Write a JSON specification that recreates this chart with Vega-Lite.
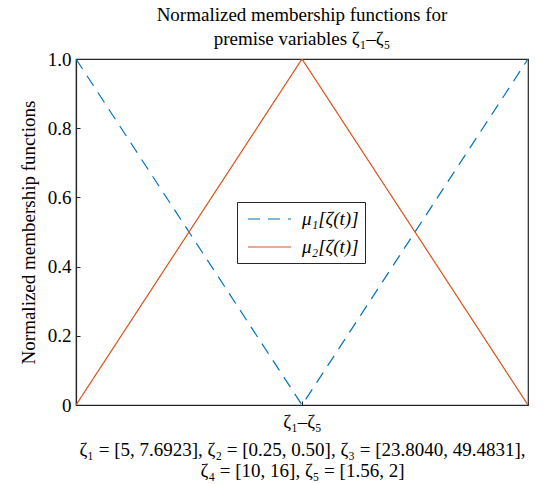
{
  "$schema": "https://vega.github.io/schema/vega-lite/v6.json",
  "autosize": {"type": "none"},
  "padding": {"left": 76, "top": 59, "right": 15, "bottom": 79},
  "width": 452,
  "height": 346,
  "background": "white",
  "title": {
    "text": ["Normalized membership functions for", "premise variables ζ₁–ζ₅"],
    "font": "Times New Roman",
    "fontSize": 19,
    "fontWeight": "normal",
    "color": "#000000",
    "lineHeight": 24,
    "offset": 1,
    "anchor": "middle"
  },
  "data": {
    "values": [
      {"x": 0, "y": 1, "series": "μ₁[ζ(t)]"},
      {"x": 0.5, "y": 0, "series": "μ₁[ζ(t)]"},
      {"x": 1, "y": 1, "series": "μ₁[ζ(t)]"},
      {"x": 0, "y": 0, "series": "μ₂[ζ(t)]"},
      {"x": 0.5, "y": 1, "series": "μ₂[ζ(t)]"},
      {"x": 1, "y": 0, "series": "μ₂[ζ(t)]"}
    ]
  },
  "mark": {"type": "line", "strokeWidth": 1.2, "clip": true},
  "encoding": {
    "x": {
      "field": "x", "type": "quantitative",
      "scale": {"domain": [0, 1], "nice": false},
      "axis": {
        "values": [0.5],
        "labelExpr": "'ζ₁–ζ₅'",
        "grid": false,
        "tickSize": -4,
        "labelPadding": 11,
        "title": ["ζ₁ = [5, 7.6923], ζ₂ = [0.25, 0.50], ζ₃ = [23.8040, 49.4831],", "ζ₄ = [10, 16], ζ₅ = [1.56, 2]"],
        "titlePadding": 9,
        "titleLineHeight": 21
      }
    },
    "y": {
      "field": "y", "type": "quantitative",
      "scale": {"domain": [0, 1], "nice": false},
      "axis": {
        "values": [0, 0.2, 0.4, 0.6, 0.8, 1],
        "labelExpr": "datum.value == 0 ? '0' : format(datum.value, '.1f')",
        "grid": false,
        "tickSize": -4,
        "labelPadding": 9,
        "title": "Normalized membership functions",
        "titlePadding": 9
      }
    },
    "color": {
      "field": "series", "type": "nominal",
      "scale": {"domain": ["μ₁[ζ(t)]", "μ₂[ζ(t)]"], "range": ["#0072BD", "#D95319"]},
      "legend": {
        "title": null,
        "orient": "none",
        "legendX": 161,
        "legendY": 143,
        "strokeColor": "#262626",
        "fillColor": "white",
        "padding": 6,
        "symbolType": "M-0.6,0H3.7",
        "symbolSize": 400,
        "symbolStrokeWidth": 1.2,
        "rowPadding": 7,
        "labelFont": "Times New Roman",
        "labelFontSize": 19,
        "labelFontStyle": "italic",
        "labelColor": "#000000",
        "labelOffset": 37
      }
    },
    "strokeDash": {
      "field": "series", "type": "nominal",
      "scale": {"domain": ["μ₁[ζ(t)]", "μ₂[ζ(t)]"], "range": [[12, 8], [1, 0]]},
      "legend": {
        "title": null,
        "orient": "none",
        "legendX": 161,
        "legendY": 143,
        "strokeColor": "#262626",
        "fillColor": "white",
        "padding": 6,
        "symbolType": "M-0.6,0H3.7",
        "symbolSize": 400,
        "symbolStrokeWidth": 1.2,
        "rowPadding": 7,
        "labelFont": "Times New Roman",
        "labelFontSize": 19,
        "labelFontStyle": "italic",
        "labelColor": "#000000",
        "labelOffset": 37
      }
    }
  },
  "config": {
    "view": {"stroke": "#262626", "strokeWidth": 1.2},
    "axis": {
      "domainColor": "#262626",
      "domainWidth": 1.2,
      "tickColor": "#262626",
      "labelFont": "Times New Roman",
      "labelFontSize": 19,
      "labelColor": "#000000",
      "titleFont": "Times New Roman",
      "titleFontSize": 19,
      "titleFontWeight": "normal",
      "titleColor": "#000000"
    }
  }
}
